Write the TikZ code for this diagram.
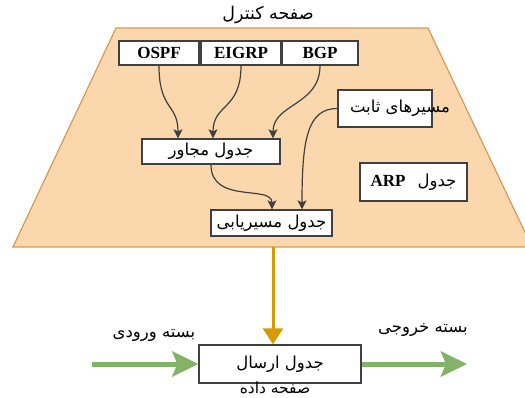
\documentclass[tikz,border=0pt]{standalone}
\usepackage{fontspec}
\setmainfont{Liberation Serif}
\newfontfamily\arabicfont[Script=Arabic]{DejaVu Sans}
\TeXXeTstate=1
\usetikzlibrary{arrows.meta,calc}

% right-to-left Persian text
\newcommand{\fa}[1]{{\arabicfont\beginR #1\endR}}

\definecolor{planefill}{HTML}{FAD7AC}
\definecolor{planeedge}{HTML}{D49A55}
\definecolor{boxedge}{HTML}{404040}
\definecolor{feedline}{HTML}{D79B00}
\definecolor{packetline}{HTML}{82B366}

\tikzset{
  plane/.style={fill=planefill, draw=planeedge, line width=1.2pt},
  tablebox/.style={draw=boxedge, fill=white, line width=1.3pt, inner sep=0pt,
    font=\fontsize{16.5}{18}\selectfont},
  protobox/.style={tablebox, minimum height=24pt,
    font=\fontsize{17}{19}\selectfont\bfseries},
  lbl/.style={inner sep=0pt, font=\fontsize{16.5}{18}\selectfont},
  link/.style={draw=boxedge, line width=1.2pt,
    -{Stealth[length=9pt,width=9pt,inset=2pt]}},
  feed/.style={draw=feedline, line width=3pt,
    -{Triangle[length=16pt,width=20pt]}},
  packet/.style={draw=packetline, line width=5pt,
    -{Stealth[length=26pt,width=25pt,inset=5pt]}},
}

\begin{document}
\begin{tikzpicture}[x=1pt,y=-1pt]
\useasboundingbox (0,0) rectangle (525,398);

% control plane
\begin{scope}
  \clip (0,0) rectangle (525,398);
  \path[plane] (116,28) -- (428,28) -- (532,247) -- (13,247) -- cycle;
\end{scope}
\node[lbl, font=\fontsize{17.5}{19}\selectfont] (ctrltitle) at (268,15) {\fa{صفحه کنترل}};

% routing protocols
\node[protobox, minimum width=80pt] (ospf) at (159,53) {OSPF};
\node[protobox, minimum width=80pt] (eigrp) at (241,53) {EIGRP};
\node[protobox, minimum width=76pt] (bgp) at (320,53) {BGP};

% tables inside the control plane
\node[tablebox, minimum width=94pt, minimum height=37pt] (static) at (385,108.5) {};
\node[lbl] (statictext) at (400,108) {\fa{مسیرهای ثابت}};
\node[tablebox, minimum width=138pt, minimum height=25pt] (nbr) at (211,151.5) {\fa{جدول مجاور}};
\node[tablebox, minimum width=107pt, minimum height=38pt] (arp) at (413.5,182)
  {\fa{جدول\hspace{12pt}\beginL\fontspec{Liberation Serif}\fontsize{17}{19}\selectfont\bfseries ARP\endL}};
\node[tablebox, minimum width=121pt, minimum height=26pt] (rt) at (271.5,223) {\fa{جدول مسیریابی}};

% data plane
\node[tablebox, minimum width=162pt, minimum height=38pt] (fwd) at (280,364) {\fa{جدول ارسال}};
\node[lbl, anchor=base, font=\fontsize{15.5}{17}\selectfont] (datatitle) at (275,393) {\fa{صفحه داده}};
\node[lbl] (inlbl) at (154,335) {\fa{بسته ورودی}};
\node[lbl] (outlbl) at (423,330) {\fa{بسته خروجی}};

\coordinate (ctrlbottom) at (273,247);
\coordinate (pktin) at (92,364);
\coordinate (pktout) at (467,364);

% protocol feeds
\draw[link] (ospf.south) .. controls +(0,45) and +(0,-35) .. ([xshift=-33pt]nbr.north);
\draw[link] (eigrp.south) .. controls +(0,45) and +(0,-35) .. ([xshift=2pt]nbr.north);
\draw[link] (bgp.south) .. controls +(0,40) and +(0,-35) .. ([xshift=62pt]nbr.north);
\draw[link] (nbr.south) .. controls +(0,40) and +(0,-25) .. ([xshift=0.5pt]rt.north);
\draw[link] (static.west) .. controls +(-30,0) and +(0,-70) .. ([xshift=30.5pt]rt.north);

% control plane to forwarding table
\draw[feed] (ctrlbottom) -- (fwd.north -| ctrlbottom);

% packet flow
\draw[packet] (pktin) -- (fwd.west);
\draw[packet] (fwd.east) -- (pktout);
\end{tikzpicture}
\end{document}
